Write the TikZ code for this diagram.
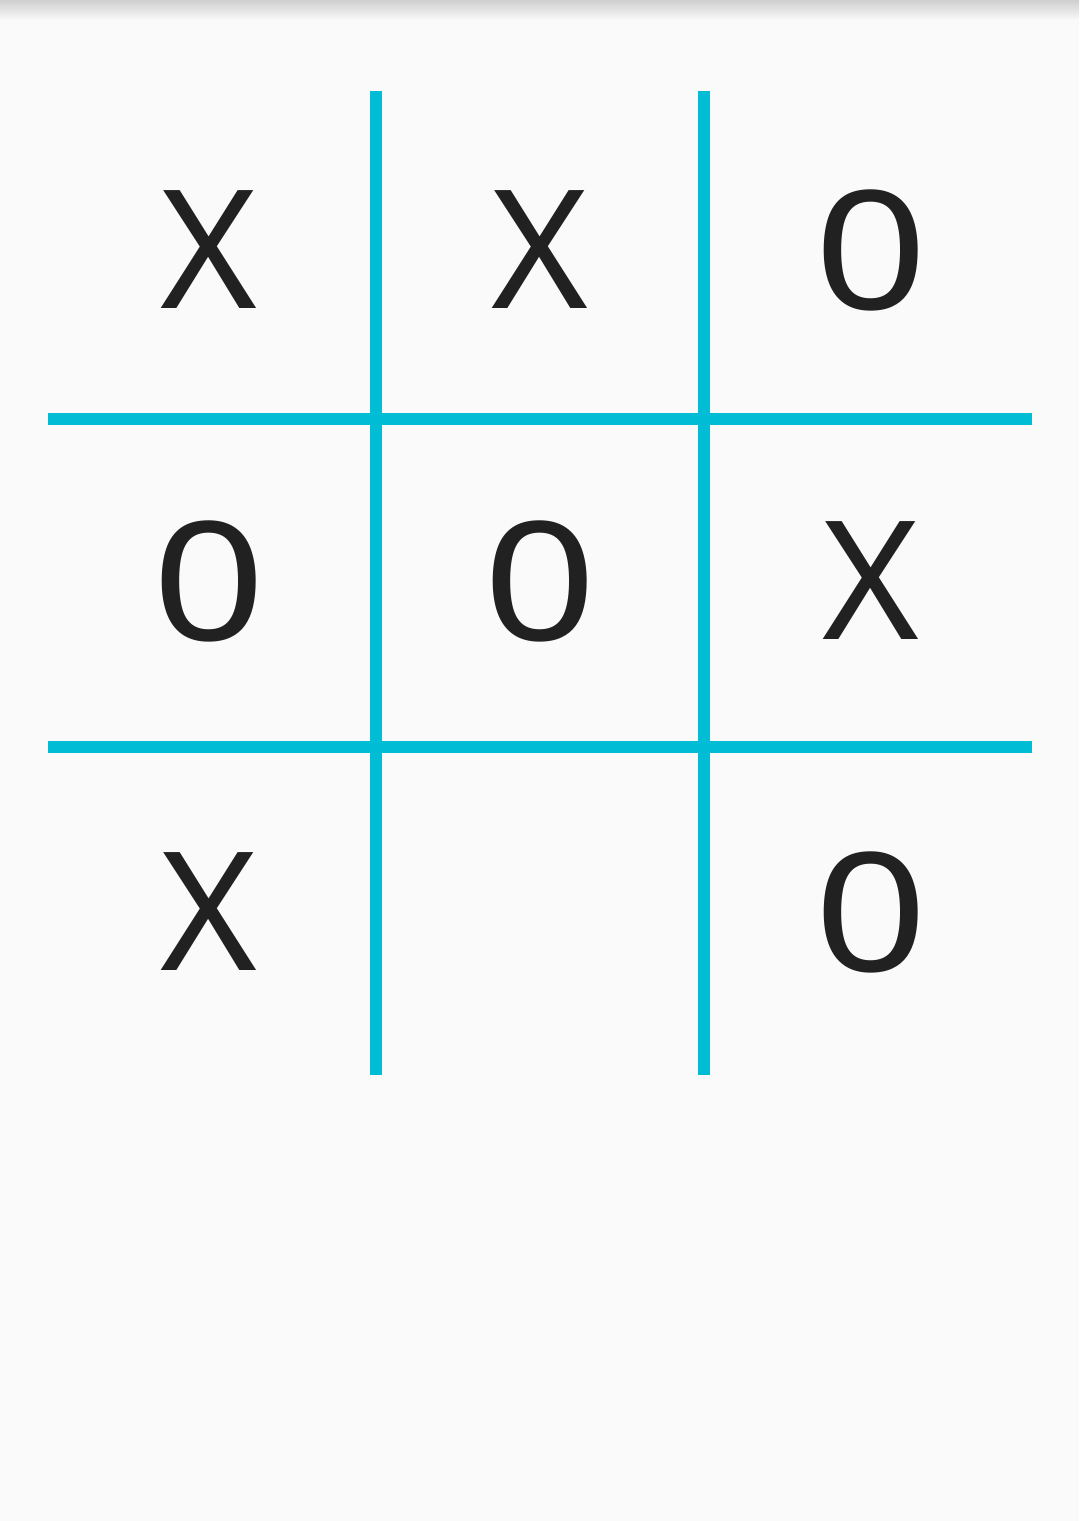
\documentclass[tikz,border=0pt]{standalone}
\usepackage{fontspec}
\setmainfont{Noto Sans}
\usepackage{tikz}
\definecolor{bgcol}{HTML}{FAFAFA}
\definecolor{gridcol}{HTML}{00BCD4}
\definecolor{markcol}{HTML}{212121}
\definecolor{shadowcol}{HTML}{CFCFCF}
\newcommand{\zeromark}{\scalebox{1.2}[1]{0}}

\begin{document}
\begin{tikzpicture}[x=0.02cm,y=-0.02cm,
  gridline/.style={gridcol,line width=0.24cm},
  cellmark/.style={markcol,font=\fontsize{94}{94}\selectfont,inner sep=0pt}]
\fill[bgcol] (0,0) rectangle (1079,1521);
\useasboundingbox (0,0) rectangle (1079,1521);
\shade[top color=shadowcol,bottom color=bgcol] (0,0) rectangle (1079,20);

\coordinate (V1t) at (376,91);
\coordinate (V1b) at (376,1075);
\coordinate (V2t) at (704,91);
\coordinate (V2b) at (704,1075);
\coordinate (H1l) at (48,419);
\coordinate (H1r) at (1032,419);
\coordinate (H2l) at (48,747);
\coordinate (H2r) at (1032,747);

\draw[gridline] (V1t) -- (V1b);
\draw[gridline] (V2t) -- (V2b);
\draw[gridline] (H1l) -- (H1r);
\draw[gridline] (H2l) -- (H2r);

\node[cellmark] (a1) at (209,250) {X};
\node[cellmark] (a2) at (540,250) {X};
\node[cellmark] (a3) at (871,250) {\zeromark};
\node[cellmark] (b1) at (209,581) {\zeromark};
\node[cellmark] (b2) at (540,581) {\zeromark};
\node[cellmark] (b3) at (871,581) {X};
\node[cellmark] (c1) at (209,912) {X};
\node[cellmark] (c3) at (871,912) {\zeromark};
\end{tikzpicture}
\end{document}
